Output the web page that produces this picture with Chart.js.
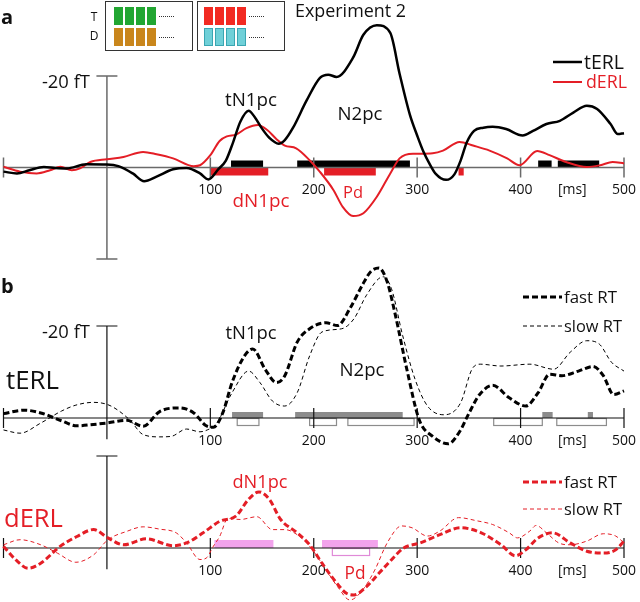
<!DOCTYPE html>
<html><head><meta charset="utf-8">
<script src="https://cdn.jsdelivr.net/npm/chart.js@4.4.1/dist/chart.umd.min.js"></script>
<style>
body{margin:0;background:#fff;}
#wrap{position:relative;width:640px;height:602px;overflow:hidden;font-family:"Open Sans",sans-serif;color:#111;}
canvas{position:absolute;left:0;top:0;}
.t{position:absolute;white-space:nowrap;transform:translate(-50%,-50%);line-height:1;}
.l{position:absolute;white-space:nowrap;transform:translate(0,-50%);line-height:1;}
.box{position:absolute;border:1.3px solid #333;box-sizing:border-box;}
.sq{position:absolute;width:9px;height:18px;box-sizing:border-box;}
.dots{position:absolute;height:0;border-top:1.5px dotted #333;}
.red{color:#e41e26;}
</style></head><body>
<div id="wrap">
<canvas id="cA" width="640" height="602"></canvas>
<canvas id="cB" width="640" height="602"></canvas>
<canvas id="cC" width="640" height="602"></canvas>

<div class="l" style="left:1px;top:17px;font-size:20px;font-weight:bold;">a</div>
<div class="l" style="left:1px;top:286px;font-size:20px;font-weight:bold;">b</div>
<div class="l fit" data-w="111" style="left:295px;top:11px;font-size:17px;">Experiment 2</div>

<div class="box" style="left:105px;top:1px;width:88px;height:50px;"></div>
<div class="box" style="left:197px;top:1px;width:88px;height:50px;"></div>
<div class="t" style="left:94px;top:17px;font-size:12px;">T</div>
<div class="t" style="left:94px;top:36px;font-size:12px;">D</div>
<div id="squares"></div>

<div class="l fit" data-w="40" style="left:584px;top:62px;font-size:17px;">tERL</div>
<div class="l red fit" data-w="41" style="left:586px;top:82px;font-size:17px;">dERL</div>
<div class="t fit" data-w="52" style="left:251px;top:99px;font-size:17px;">tN1pc</div>
<div class="t fit" data-w="45" style="left:360px;top:113px;font-size:17px;">N2pc</div>
<div class="t red fit" data-w="57" style="left:261px;top:200px;font-size:17px;">dN1pc</div>
<div class="t red fit" data-w="20" style="left:353px;top:192px;font-size:17px;">Pd</div>

<div class="l fit" data-w="53" style="left:6px;top:380px;font-size:26px;">tERL</div>
<div class="t fit" data-w="51" style="left:251px;top:332px;font-size:17px;">tN1pc</div>
<div class="t fit" data-w="45" style="left:362px;top:369px;font-size:17px;">N2pc</div>
<div class="l fit" data-w="53" style="left:564px;top:297px;font-size:15px;">fast RT</div>
<div class="l fit" data-w="58" style="left:564px;top:326px;font-size:15px;">slow RT</div>

<div class="l red fit" data-w="59" style="left:4px;top:518px;font-size:26px;">dERL</div>
<div class="t red fit" data-w="55" style="left:260px;top:481px;font-size:17px;">dN1pc</div>
<div class="t red fit" data-w="21" style="left:355px;top:573px;font-size:17px;">Pd</div>
<div class="l fit" data-w="53" style="left:564px;top:482px;font-size:15px;">fast RT</div>
<div class="l fit" data-w="58" style="left:564px;top:509px;font-size:15px;">slow RT</div>
</div>
<script>
// ---------- DATA ----------
const tickMarks = [-100, 100, 200, 300, 400, 500];
const tickValues = [100, 200, 300, 400, 450, 500];
const tickLabels = ['100', '200', '300', '400', '[ms]', '500'];
const scaleLabel = '-20 fT';

// panel a: tERL (black)
const aTerlT = [-100,-87,-75,-61,-50,-39,-20,0,11,25,36,48,64,77,90,98,108,115,122,129,137,143,150,157,166,172,180,193,206,214,222,238,248,261,274,283,293,300,306,312,318,328,336,342,348,355,364,373,386,402,412,425,438,451,464,474,487,494,500];
const aTerlV = [0.9,1.3,0.6,-0.1,0.1,0.2,-0.7,-0.65,-0.3,1.3,3.0,2.0,0.4,0.1,1.3,2.6,0.3,-1.5,-5.5,-10,-12.4,-11,-8.5,-6.5,-5.2,-6,-8.7,-14.6,-19.6,-20.3,-19.8,-24,-29,-31.1,-29.4,-20.5,-11.5,-7,-3.5,-0.8,1.4,2.7,1.5,-1.5,-5.5,-8,-8.7,-8.9,-8.4,-7,-8,-9.5,-10.2,-12,-13.5,-12.8,-9.5,-7.3,-7.5];
// panel a: dERL (red)
const aDerlT = [-100,-84,-68,-55,-45,-34,-26,-16,0,16,35,48,64,84,90,100,109,116,125,135,146,155,164,172,183,196,206,219,228,238,248,261,274,283,296,303,315,325,341,354,370,387,399,416,428,444,464,477,489,500];
const aDerlV = [-0.15,0.9,1.3,0.6,-0.15,0.6,0.2,-1.2,-1.8,-2.3,-3.4,-2.9,-2.0,-0.3,-0.5,-2.7,-5.8,-6.8,-7.2,-8.6,-9.3,-8.2,-6.2,-4.8,-4.2,-1.6,0.95,4.9,8.6,10.6,10,6.4,1.3,-2,-3,-3,-3.1,-3.7,-5.6,-4.8,-3.7,-2,-0.5,-3.6,-2.7,-1.2,-0.1,-0.5,-1.2,-0.9];
// panel a significance bars [start, end] in ms
const aBarsT = [[120,151],[184,293],[417,430],[436,476]];
const aBarsD = [[100,156],[210,260],[340,345]];

// panel b: tERL fast / slow RT
const bFastT = [-100,-80,-64,-44,-29,-13,0,19,35,51,70,84,96,103,112,121,133,141,153,164,172,184,196,212,223,235,247,255,263,271,279,290,302,315,330,341,350,360,373,389,405,417,428,440,456,470,480,490,500];
const bFastV = [-0.95,-1.7,-1.1,0.6,1.7,1.4,1.1,0.5,1.8,-1.4,-2.2,-1.1,1.7,2.0,-1.1,-7.7,-13.5,-15,-10.6,-7.7,-9.2,-16.5,-19.4,-20.7,-20.1,-23.8,-28.9,-31.8,-32.6,-29.6,-22.3,-10.6,0.4,4,5.6,3,-1,-5,-7.1,-4.4,-2.6,-5.5,-9.5,-9.2,-10.2,-11.2,-9.2,-5.1,-5.9];
const bSlowT = [-100,-84,-64,-44,-30,-13,3,22,35,51,62,77,90,97,106,121,137,148,160,172,184,196,208,227,239,251,267,275,286,298,310,326,342,353,361,381,409,432,448,464,476,488,500];
const bSlowV = [2.6,3.3,1.1,-1.5,-2.8,-3.4,-2.7,0.4,3.6,4.1,4.0,2.4,3.0,2.6,1.2,-5.5,-10.2,-7.7,-3.7,-2.6,-5.5,-13.5,-18.7,-19.4,-21.6,-26.7,-30.7,-28.2,-17.9,-8.4,-2.6,-0.7,-3.3,-10.6,-11.7,-11.3,-11.7,-10.6,-14.3,-16.8,-16.1,-12.1,-10.2];
const bBarsFilled = [[121,151],[182,286],[421,431],[465,470]];
const bBarsOpen = [[126,147],[196,222],[233,297],[374,421],[435,483]];

// panel b: dERL fast / slow RT
const cFastT = [-100,-88,-76,-64,-45,-29,-13,1,16,38,64,77,93,109,125,137,147,157,168,184,196,208,220,232,239,251,263,275,287,303,322,342,362,381,395,405,417,431,448,464,480,492,500];
const cFastV = [-0.4,2.6,4.4,3.3,-0.4,-2.5,-4,-2.2,-0.7,-2,-0.5,-1.1,-3.3,-5.8,-7,-10.6,-12.2,-10.6,-6.2,-3.3,-0.7,3.3,7,9.9,10.2,8.4,5.5,2.6,0,-1.1,-2.9,-4.4,-3.3,-0.7,1.7,0.4,-2.2,-3.3,-1.1,0.7,1.1,0.4,-1.5];
const cSlowT = [-100,-84,-64,-48,-30,-13,1,19,35,51,67,77,90,96,103,109,117,129,145,160,172,184,196,212,223,235,247,259,271,285,295,310,322,340,358,373,389,397,409,415,425,437,448,464,480,492,500];
const cSlowV = [-0.7,-1.8,-0.7,1.1,3.1,1.5,-1.8,-3.6,-4.6,-4.1,-3.3,-1.1,2.5,2.2,-0.4,-2.5,-6.4,-6.2,-6.8,-4.0,-4.0,-2.9,-0.4,4.8,8.4,11.3,9.2,4.8,-1.1,-4.8,-4.4,-2.6,-3.7,-6.6,-5.9,-5.1,-3.3,-2.2,-3.7,-4.9,-3.3,-1.1,-0.7,-1.5,-3.1,-2.6,-1.1];
const cBarsFilled = [[104,161],[208,262]];
const cBarsOpen = [[218,254]];

// ---------- STYLE / RENDER ----------
const RED = '#e41e26';
const FONT = '"Open Sans"';
function pts(t, v) { return t.map((x, i) => ({ x: x, y: v[i] })); }
function ds(t, v, color, width, dash) {
  return { data: pts(t, v), borderColor: color, borderWidth: width, borderDash: dash || [],
    pointRadius: 0, fill: false, cubicInterpolationMode: 'monotone', clip: false };
}

// fit annotation text to the reference widths
document.querySelectorAll('.fit').forEach(el => {
  const base = parseFloat(el.style.fontSize);
  const w = el.getBoundingClientRect().width;
  const target = parseFloat(el.dataset.w);
  if (w > 0) el.style.fontSize = (base * target / w).toFixed(2) + 'px';
});

// canvas label font sizes matched to reference widths
const measureCtx = document.createElement('canvas').getContext('2d');
function fitSize(text, target) {
  measureCtx.font = '20px ' + FONT;
  return 20 * target / measureCtx.measureText(text).width;
}
const tickFontSize = fitSize('100', 24);
const scaleFontSize = fitSize(scaleLabel, 48);

// inset stimulus squares
(function () {
  const host = document.getElementById('squares');
  const rows = [
    { x0: 114, y: 7, fill: '#22a632', border: '#22a632' },
    { x0: 114, y: 28, fill: '#c9861c', border: '#c9861c' },
    { x0: 204, y: 7, fill: '#f22a22', border: '#f22a22' },
    { x0: 204, y: 28, fill: '#6fd0d8', border: '#3aa6b2' }
  ];
  rows.forEach(r => {
    for (let i = 0; i < 4; i++) {
      const d = document.createElement('div');
      d.className = 'sq';
      d.style.left = (r.x0 + i * 11) + 'px'; d.style.top = r.y + 'px';
      d.style.background = r.fill; d.style.border = '1px solid ' + r.border;
      host.appendChild(d);
    }
    const dt = document.createElement('div');
    dt.className = 'dots';
    dt.style.left = (r.x0 + 45) + 'px'; dt.style.top = (r.y + 9) + 'px'; dt.style.width = '15px';
    host.appendChild(dt);
  });
})();

const panelCfg = {
  cA: { axisColor: '#6a6a6a', axisWidth: 1.5, barTop: -20, barBottom: 20, capBottom: true, label: true,
        bars: [ { data: aBarsT, up: true, h: 7, fill: '#000' }, { data: aBarsD, up: false, h: 8, fill: RED } ],
        legend: [ { ds: 0, x1: 553, x2: 582, y: 62 }, { ds: 1, x1: 553, x2: 582, y: 82 } ] },
  cB: { axisColor: '#111', axisWidth: 1.2, barTop: -20, barBottom: 4.6, capBottom: false, label: true,
        bars: [ { data: bBarsFilled, up: true, h: 6, fill: '#8c8c8c' }, { data: bBarsOpen, up: false, h: 8, stroke: '#8c8c8c' } ],
        legend: [ { ds: 0, x1: 523, x2: 562, y: 297 }, { ds: 1, x1: 523, x2: 562, y: 326 } ] },
  cC: { axisColor: '#111', axisWidth: 1.2, barTop: -20, barBottom: 4.6, capBottom: false, label: false,
        bars: [ { data: cBarsFilled, up: true, h: 8, fill: '#f2a3ec' }, { data: cBarsOpen, up: false, h: 8, stroke: '#e08ad8' } ],
        legend: [ { ds: 0, x1: 523, x2: 562, y: 482 }, { ds: 1, x1: 523, x2: 562, y: 509 } ] }
};

const erlPlugin = {
  id: 'erlAxes',
  beforeDatasetsDraw(chart) {
    const o = panelCfg[chart.canvas.id];
    const ctx = chart.ctx, xs = chart.scales.x, ys = chart.scales.y;
    const y0 = ys.getPixelForValue(0);
    ctx.save();
    o.bars.forEach(b => {
      b.data.forEach(r => {
        const x1 = xs.getPixelForValue(r[0]), x2 = xs.getPixelForValue(r[1]);
        const top = b.up ? y0 - b.h : y0;
        if (b.fill) { ctx.fillStyle = b.fill; ctx.fillRect(x1, top, x2 - x1, b.h); }
        else { ctx.strokeStyle = b.stroke; ctx.lineWidth = 1.2; ctx.strokeRect(x1, top + 0.5, x2 - x1, b.h - 1); }
      });
    });
    ctx.strokeStyle = o.axisColor; ctx.lineWidth = o.axisWidth;
    ctx.beginPath();
    ctx.moveTo(xs.getPixelForValue(-100), y0); ctx.lineTo(xs.getPixelForValue(500), y0);
    tickMarks.forEach(v => { const x = xs.getPixelForValue(v); ctx.moveTo(x, y0 - 10); ctx.lineTo(x, y0 + 10); });
    const xz = xs.getPixelForValue(0);
    const yt = ys.getPixelForValue(o.barTop), yb = ys.getPixelForValue(o.barBottom);
    ctx.moveTo(xz, yt); ctx.lineTo(xz, yb);
    ctx.moveTo(xz - 10.5, yt); ctx.lineTo(xz + 10.5, yt);
    if (o.capBottom) { ctx.moveTo(xz - 10.5, yb); ctx.lineTo(xz + 10.5, yb); }
    ctx.stroke();
    ctx.fillStyle = '#111'; ctx.font = tickFontSize.toFixed(2) + 'px ' + FONT;
    ctx.textAlign = 'center'; ctx.textBaseline = 'middle';
    tickValues.forEach((v, i) => ctx.fillText(tickLabels[i], xs.getPixelForValue(v), y0 + 23));
    if (o.label) { ctx.textAlign = 'right'; ctx.font = scaleFontSize.toFixed(2) + 'px ' + FONT; ctx.fillText(scaleLabel, xz - 17, yt + 7); }
    ctx.restore();
  },
  afterDraw(chart) {
    const o = panelCfg[chart.canvas.id];
    const ctx = chart.ctx;
    ctx.save();
    o.legend.forEach(l => {
      const d = chart.data.datasets[l.ds];
      ctx.strokeStyle = d.borderColor; ctx.lineWidth = d.borderWidth; ctx.setLineDash(d.borderDash || []);
      ctx.beginPath(); ctx.moveTo(l.x1, l.y); ctx.lineTo(l.x2, l.y); ctx.stroke();
    });
    ctx.restore();
  }
};

function makeChart(id, datasets, yMin, yMax, padTop, padBottom) {
  return new Chart(document.getElementById(id), {
    type: 'line',
    data: { datasets: datasets },
    options: {
      responsive: false, animation: false, events: [],
      layout: { padding: { left: 3.5, right: 16, top: padTop, bottom: padBottom } },
      plugins: { legend: { display: false }, tooltip: { enabled: false } },
      scales: {
        x: { type: 'linear', min: -100, max: 500, display: false },
        y: { type: 'linear', min: yMin, max: yMax, reverse: true, display: false }
      }
    },
    plugins: [erlPlugin]
  });
}

makeChart('cA', [ ds(aTerlT, aTerlV, '#000', 2.5), ds(aDerlT, aDerlV, RED, 2) ], -20, 20, 76, 343);
makeChart('cB', [ ds(bFastT, bFastV, '#000', 3, [6, 3]), ds(bSlowT, bSlowV, '#000', 1, [4, 3]) ], -20, 20, 326, 92);
makeChart('cC', [ ds(cFastT, cFastV, RED, 3, [6, 3]), ds(cSlowT, cSlowV, RED, 1, [4, 3]) ], -20, 10, 456, 8);
</script>
</body></html>
